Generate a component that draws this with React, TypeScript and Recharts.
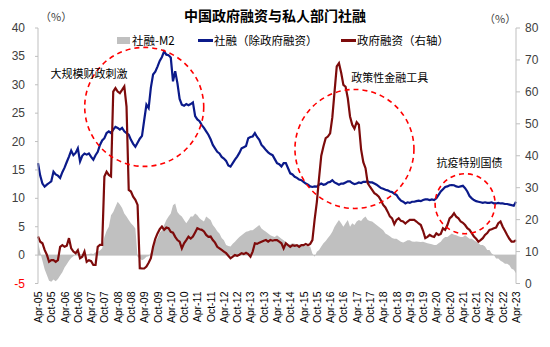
import React from 'react';
import { ComposedChart, Area, Line, XAxis, YAxis, ReferenceLine, ReferenceDot } from 'recharts';

// month labels Apr-05 .. Apr-23
const MONTH_NAMES = ['Jan', 'Feb', 'Mar', 'Apr', 'May', 'Jun', 'Jul', 'Aug', 'Sep', 'Oct', 'Nov', 'Dec'];
const START_YEAR = 5;
const START_MONTH = 3; // Apr
const N_MONTHS = 217;
const months: string[] = [];
for (let i = 0; i < N_MONTHS; i++) {
  const k = START_MONTH + i;
  const yy = START_YEAR + Math.floor(k / 12);
  months.push(`${MONTH_NAMES[k % 12]}-${String(yy).padStart(2, '0')}`);
}

// 社融（除政府融资）, %, left axis — one row per Apr..Mar year
const privateTsf = [
  16.2, 14.0, 12.6, 12.05, 12.4, 12.7, 13.0, 14.7, 14.2, 14.0, 13.6, 14.6,
  15.4, 16.4, 17.35, 18.4, 17.6, 18.0, 18.8, 16.5, 17.5, 17.9, 17.7, 17.9,
  17.3, 16.8, 17.6, 18.2, 19.4, 20.2, 20.6, 21.5, 21.8, 21.5, 22.1, 22.6,
  22.4, 22.1, 22.4, 21.8, 21.5, 21.2, 20.3, 19.6, 19.1, 19.8, 20.5, 21.0,
  23.8, 26.5, 25.9, 29.5, 31.8, 32.3, 33.2, 34.2, 34.9, 35.9, 35.3, 35.2,
  34.8, 30.6, 32.4, 30.3, 27.5, 26.5, 26.3, 26.6, 26.4, 26.6, 26.9, 24.5,
  23.9, 23.6, 22.9, 22.4, 21.8, 21.2, 20.4, 19.4, 18.8, 18.2, 17.9, 17.3,
  17.0, 16.6, 15.8, 15.6, 16.2, 16.8, 17.35, 18.0, 18.8, 19.0, 19.2, 20.6,
  20.8, 20.9, 21.5, 20.8, 20.3, 19.4, 19.0, 18.5, 18.1, 17.8, 17.6, 16.9,
  16.2, 16.0, 15.6, 16.2, 16.2, 15.3, 14.4, 14.2, 13.8, 13.6, 13.3, 13.2,
  12.9, 12.6, 12.4, 12.1, 12.0, 12.1, 12.05, 12.4, 12.6, 12.4, 12.5, 12.8,
  12.9, 13.2, 12.8, 12.6, 12.4, 12.6, 12.6, 12.8, 13.0, 13.0, 12.7, 12.5,
  12.6, 12.8, 12.7, 12.9, 12.9, 13.0, 12.8, 12.8, 12.6, 12.4, 12.1, 11.8,
  11.7, 11.5, 11.4, 11.2, 11.1, 10.8, 10.6, 10.0, 9.6, 9.4, 9.1, 9.3,
  9.2, 9.4, 9.4, 9.5, 9.6, 9.5, 9.7, 9.8, 9.8, 9.7, 9.8, 9.7,
  10.0, 10.6, 11.2, 11.6, 12.0, 12.1, 12.3, 12.35, 12.3, 12.1, 12.0, 12.1,
  12.2, 11.8, 11.2, 10.4, 10.0, 9.7, 9.5, 9.4, 9.3, 9.2, 9.3, 9.2,
  9.2, 9.3, 9.1, 9.1, 9.2, 9.1, 9.1, 9.0, 9.0, 8.9, 8.8, 8.7,
  9.4,
];

// 政府融资, %, right axis
const govFinancing = [
  14.7, 13.1, 12.6, 10.5, 9.0, 6.8, 7.3, 7.3, 6.8, 7.3, 11.5, 12.0,
  11.5, 11.8, 14.2, 11.0, 10.0, 9.5, 10.4, 7.9, 8.4, 10.0, 6.8, 7.3,
  7.0, 5.8, 5.8, 11.5, 12.1, 12.1, 33.5, 35.0, 34.0, 33.5, 60.1, 61.2,
  60.1, 59.6, 60.6, 61.7, 55.4, 29.3, 28.8, 27.2, 26.2, 24.6, 4.8, 4.7,
  4.7, 5.3, 6.5, 7.9, 11.5, 14.0, 15.7, 17.0, 17.8, 16.8, 17.5, 17.3,
  16.2, 15.9, 14.6, 13.6, 13.1, 11.0, 12.6, 13.6, 14.7, 14.1, 14.7, 16.0,
  17.3, 17.0, 16.8, 16.3, 15.2, 14.6, 14.7, 13.6, 12.8, 11.5, 11.0, 10.5,
  10.0, 9.5, 8.7, 7.9, 8.4, 8.9, 8.7, 9.0, 9.5, 9.2, 9.6, 9.2,
  8.4, 10.0, 12.6, 12.4, 12.8, 13.1, 13.4, 13.6, 13.1, 13.6, 13.4, 13.6,
  13.6, 13.1, 12.6, 11.0, 12.6, 12.0, 11.5, 12.0, 11.8, 12.0, 11.5, 12.0,
  12.0, 12.4, 12.0, 12.4, 13.6, 20.0, 25.5, 33.0, 40.0, 43.0, 45.5, 46.0,
  47.0, 52.0, 60.0, 68.0, 69.0, 66.0, 62.2, 61.6, 58.0, 52.3, 49.7, 48.5,
  50.5, 49.7, 42.0, 38.0, 36.1, 31.4, 30.3, 29.3, 28.3, 27.8, 27.2, 26.0,
  24.6, 23.8, 22.5, 21.0, 20.4, 18.6, 19.9, 20.4, 19.6, 19.4, 18.8, 19.4,
  19.9, 19.9, 19.9, 19.4, 18.8, 18.3, 16.5, 14.2, 14.6, 15.2, 14.8, 14.6,
  15.7, 15.2, 15.5, 17.3, 16.8, 18.3, 20.4, 21.0, 22.0, 20.9, 20.4, 19.4,
  19.0, 18.3, 17.3, 16.8, 15.8, 14.7, 14.0, 13.1, 13.6, 14.2, 15.2, 15.8,
  16.8, 17.0, 17.3, 17.5, 18.9, 19.4, 17.8, 16.5, 15.2, 14.0, 13.1, 13.1,
  13.6,
];

// 社融-M2, %, left axis
const tsfMinusM2 = [
  2.3, 0.5, -1.0, -2.5, -3.5, -4.5, -4.7, -4.3, -4.6, -4.2, -3.6, -3.0,
  -2.2, -1.6, -1.0, -0.5, -0.2, 0.2, 0.3, 0.1, 0.2, 0.3, 0.1, 0.2,
  0.3, 0.2, 0.5, 0.6, 0.8, 1.2, 3.2, 4.3, 5.0, 7.0, 7.6, 8.5,
  9.4, 8.9, 8.3, 7.35, 6.8, 6.2, 5.6, 5.2, 4.7, -0.3, -0.6, -0.9,
  -0.7, -0.3, -0.2, 0.4, 1.5, 2.4, 3.0, 4.0, 4.4, 5.3, 6.2, 6.8,
  7.35, 8.8, 9.1, 7.6, 7.1, 6.8, 6.2, 5.6, 6.2, 6.8, 6.8, 7.35,
  7.0, 6.5, 6.2, 5.9, 6.8, 6.5, 6.2, 5.3, 4.8, 4.2, 3.8, 3.0,
  2.6, 1.8, 1.6, 1.5, 2.0, 2.35, 2.8, 3.2, 3.5, 3.8, 4.1, 4.2,
  4.4, 4.4, 4.7, 5.0, 5.3, 4.7, 4.4, 4.1, 3.8, 3.5, 3.3, 3.2,
  3.5, 3.2, 2.9, 2.6, 2.3, 1.8, 1.9, 2.1, 2.0, 1.8, 1.9, 1.8,
  1.8, 1.7, 1.5, 1.5, 0.3, -0.3, 0.6, 0.9, 1.5, 2.1, 2.5, 3.0,
  3.5, 4.1, 5.0, 5.6, 6.2, 5.6, 5.0, 5.6, 6.2, 5.0, 5.6, 5.3,
  5.9, 6.2, 6.0, 6.5, 6.8, 6.2, 6.0, 5.9, 5.6, 5.3, 5.0, 4.7,
  4.4, 3.8, 3.6, 3.3, 3.0, 2.9, 2.9, 2.6, 2.35, 2.2, 2.4, 2.6,
  2.6, 2.4, 2.35, 2.4, 2.35, 2.3, 2.35, 2.2, 2.1, 2.0, 1.9, 1.8,
  1.8, 2.1, 2.35, 2.9, 3.2, 3.2, 3.5, 3.8, 3.6, 3.5, 3.3, 3.2,
  3.2, 3.5, 3.2, 2.9, 2.9, 2.6, 2.35, 2.1, 1.8, 1.8, 1.5, 0.9,
  0.9, 0.3, 0.0, -0.6, -0.6, -1.0, -1.2, -1.5, -1.5, -1.8, -2.4, -2.6,
  -3.2,
];

const leftTicks = [-5, 0, 5, 10, 15, 20, 25, 30, 35, 40];
const rightTicks = [0, 10, 20, 30, 40, 50, 60, 70, 80];

const data = months.map((m, i) => ({
  month: m,
  gap: tsfMinusM2[i],
  priv: privateTsf[i],
  gov: govFinancing[i],
}));

const BLUE = '#0b1a8a';
const RED = '#7d0b0b';
const GRAY = '#c0c0c0';
const AXIS = '#bfbfbf';
const CIRCLE = '#ff0000';
const FONT_CN = '"Noto Sans CJK SC", "Microsoft YaHei", sans-serif';
const FONT_NUM = '"Liberation Sans", Arial, sans-serif';

const LeftTick = ({ x, y, payload }: any) => (
  <text x={x} y={y} textAnchor="end" dominantBaseline="central" fontSize={12}
    fontFamily={FONT_NUM} fill={payload.value < 0 ? '#ff0000' : '#404040'}>
    {payload.value}
  </text>
);

const RightTick = ({ x, y, payload }: any) => (
  <text x={x} y={y} textAnchor="start" dominantBaseline="central" fontSize={12}
    fontFamily={FONT_NUM} fill="#404040">
    {payload.value}
  </text>
);

const MonthTick = ({ x, y, payload }: any) => (
  <text x={x} y={y} transform={`rotate(-90, ${x}, ${y})`} textAnchor="end"
    dominantBaseline="central" fontSize={10.5} fontFamily={FONT_NUM} fill="#000">
    {payload.value}
  </text>
);

const noteLabel = (value: string) => ({
  value,
  position: 'center' as const,
  fill: '#000',
  fontSize: 11,
  fontFamily: FONT_CN,
});

const abs = (left: number, top: number, extra: React.CSSProperties = {}): React.CSSProperties => ({
  position: 'absolute', left, top, whiteSpace: 'nowrap', ...extra,
});

export default function App() {
  return (
    <div style={{ position: 'absolute', left: 0, top: 0, width: 550, height: 347, background: '#fff', overflow: 'hidden' }}>
      <div style={abs(0, 5, { width: 550, textAlign: 'center', fontFamily: FONT_CN, fontSize: 14, fontWeight: 'bold', color: '#000', lineHeight: '20px' })}>
        中国政府融资与私人部门社融
      </div>
      <div style={abs(40, 8, { fontFamily: FONT_CN, fontSize: 11, color: '#404040', lineHeight: '16px' })}>（%）</div>
      <div style={abs(484, 10, { fontFamily: FONT_CN, fontSize: 11, color: '#404040', lineHeight: '16px' })}>（%）</div>

      <div style={abs(0, 32, { width: 550, height: 16, fontFamily: FONT_CN, fontSize: 11.5, color: '#000', lineHeight: '16px' })}>
        <span style={abs(117, 5, { width: 13, height: 7, background: GRAY })} />
        <span style={abs(132, 0)}>社融-M2</span>
        <span style={abs(198, 7, { width: 15, height: 2.5, background: BLUE })} />
        <span style={abs(214, 0)}>社融（除政府融资）</span>
        <span style={abs(341, 7, { width: 15, height: 2.5, background: RED })} />
        <span style={abs(357, 0)}>政府融资（右轴）</span>
      </div>

      <ComposedChart width={550} height={347} data={data} margin={{ top: 28, right: 0, bottom: 0, left: 0 }}>
        <XAxis dataKey="month" interval={5} height={63.5} axisLine={false} tickLine={false}
          tickSize={0} tickMargin={8} tick={<MonthTick />} />
        <YAxis yAxisId="left" orientation="left" width={38} domain={[-5, 40]} ticks={leftTicks}
          allowDataOverflow stroke={AXIS} tickSize={3} tickMargin={10} tick={<LeftTick />} />
        <YAxis yAxisId="right" orientation="right" width={34} domain={[0, 80]} ticks={rightTicks}
          allowDataOverflow stroke={AXIS} tickSize={4} tickMargin={5} tick={<RightTick />} />

        <Area yAxisId="left" type="linear" dataKey="gap" name="社融-M2" fill={GRAY} fillOpacity={1}
          stroke="none" isAnimationActive={false} />
        <ReferenceLine yAxisId="left" y={0} stroke={AXIS} strokeWidth={1} />
        <Line yAxisId="left" type="linear" dataKey="priv" name="社融（除政府融资）" stroke={BLUE}
          strokeWidth={2.2} dot={false} isAnimationActive={false} />
        <Line yAxisId="right" type="linear" dataKey="gov" name="政府融资（右轴）" stroke={RED}
          strokeWidth={2.2} dot={false} isAnimationActive={false} />

        <ReferenceDot yAxisId="left" x={months[48]} y={26.1} r={59.5} fill="none" stroke={CIRCLE}
          strokeWidth={1.6} strokeDasharray="5 4" />
        <ReferenceDot yAxisId="left" x={months[143]} y={18.7} r={59.5} fill="none" stroke={CIRCLE}
          strokeWidth={1.6} strokeDasharray="5 4" />
        <ReferenceDot yAxisId="left" x={months[193]} y={9.05} r={30} fill="none" stroke={CIRCLE}
          strokeWidth={1.6} strokeDasharray="5 4" />

        <ReferenceDot yAxisId="left" x={months[23]} y={31.8} r={0} fill="none" stroke="none"
          label={noteLabel('大规模财政刺激')} />
        <ReferenceDot yAxisId="left" x={months[159]} y={31.1} r={0} fill="none" stroke="none"
          label={noteLabel('政策性金融工具')} />
        <ReferenceDot yAxisId="left" x={months[195]} y={16.2} r={0} fill="none" stroke="none"
          label={noteLabel('抗疫特别国债')} />
      </ComposedChart>
    </div>
  );
}
